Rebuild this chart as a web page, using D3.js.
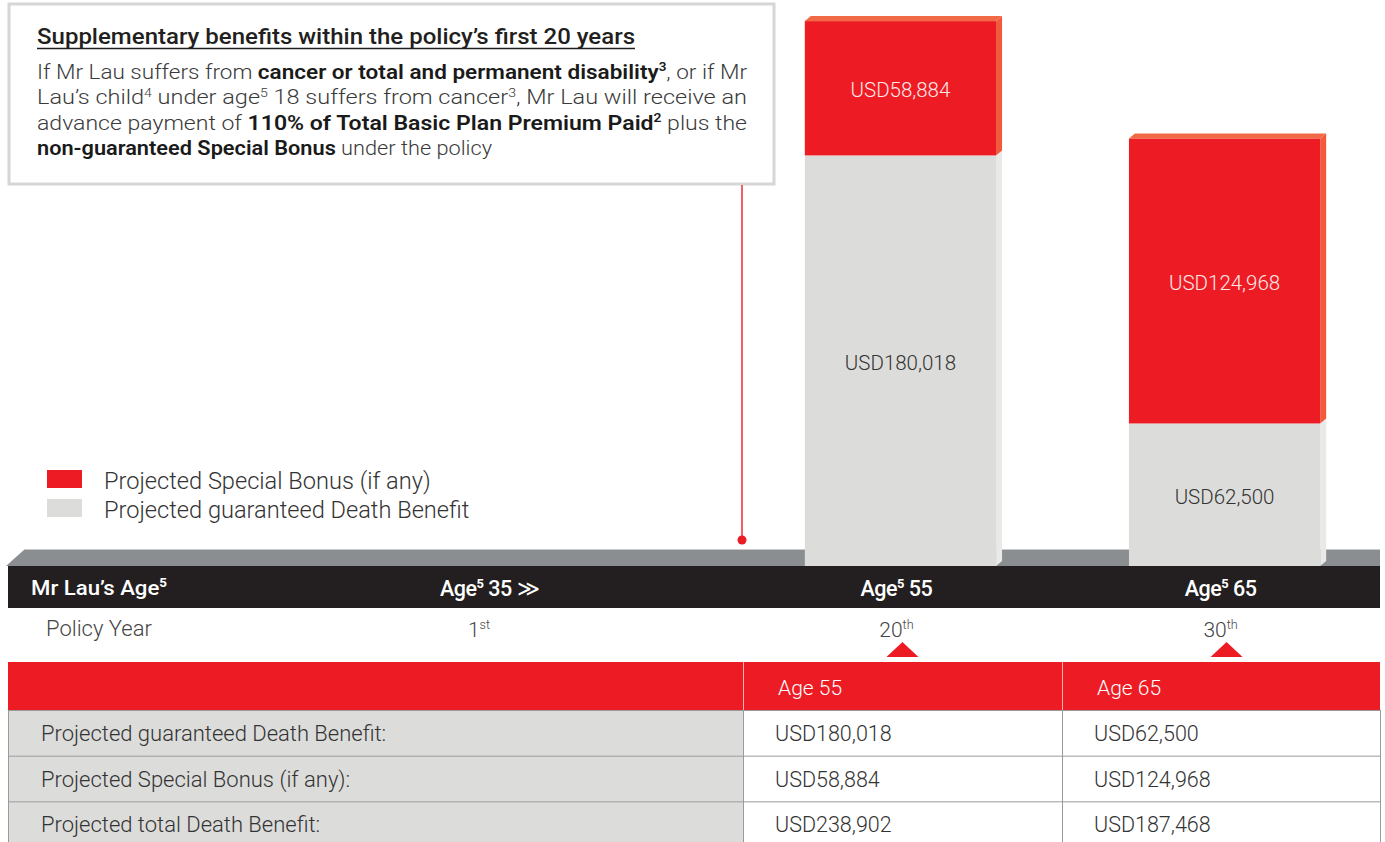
<!DOCTYPE html>
<html><head><meta charset="utf-8">
<script src="https://cdn.jsdelivr.net/npm/d3@7"></script>
<style>
html,body{margin:0;padding:0;background:#fff;}
svg{display:block;font-family:Roboto,"Noto Sans",sans-serif;}
</style></head>
<body>
<svg id="chart" width="1385" height="842"></svg>
<script>
// ---------- data ----------
const barAges = ["Age 55", "Age 65"];
const guaranteed = [180018, 62500];
const specialBonus = [58884, 124968];
const timelineAges = [35, 55, 65];
const policyYears = [1, 20, 30];
const policySuffix = ["st", "th", "th"];
const legendLabels = ["Projected Special Bonus (if any)", "Projected guaranteed Death Benefit"];
const rowLabels = ["Projected guaranteed Death Benefit:", "Projected Special Bonus (if any):", "Projected total Death Benefit:"];
const titleText = "Supplementary benefits within the policy\u2019s first 20 years";
const bodyLines = [
  [{t:"If Mr Lau suffers from "},{t:"cancer or total and permanent disability",b:1},{t:"3",b:1,s:1},{t:", or if Mr"}],
  [{t:"Lau\u2019s child"},{t:"4",s:1},{t:" under age"},{t:"5",s:1},{t:" 18 suffers from cancer"},{t:"3",s:1},{t:", Mr Lau will receive an"}],
  [{t:"advance payment of "},{t:"110% of Total Basic Plan Premium Paid",b:1},{t:"2",b:1,s:1},{t:" plus the"}],
  [{t:"non-guaranteed Special Bonus",b:1},{t:" under the policy"}]
];

const RED = "#ed1c24", RED_SIDE = "#f15a3a", GREY = "#dcdcda", GREY_SIDE = "#e9e9e7";
const fmt = v => "USD" + d3.format(",")(v);

const svg = d3.select("#chart");

// rich text helper
function rich(sel, parts, size) {
  parts.forEach((p, i) => {
    const ts = sel.append("tspan").text(p.t)
      .attr("font-weight", p.b ? 700 : null);
    if (p.s) {
      ts.attr("font-size", size * 0.6).attr("dy", -size * 0.38);
    } else if (i > 0 && parts[i-1].s) {
      ts.attr("dy", size * 0.38);
    }
  });
  return sel;
}

// ---------- scales ----------
const y = d3.scaleLinear().domain([0, 240000]).range([566, 18.6]);
const x = d3.scaleBand().domain(barAges).range([740, 1385]).paddingInner(0.41).paddingOuter(0.2);
const depthX = 6, depthY = 5;

// ---------- text box ----------
svg.append("rect").attr("x", 9).attr("y", 4).attr("width", 765).attr("height", 180)
  .attr("fill", "#fff").attr("stroke", "#d6d6d6").attr("stroke-width", 3);

svg.append("text").attr("x", 37).attr("y", 44)
  .attr("font-size", 22).attr("font-weight", 500).attr("fill", "#231f20").text(titleText)
  .attr("textLength", 598).attr("lengthAdjust", "spacingAndGlyphs");
svg.append("line").attr("x1", 37).attr("x2", 635).attr("y1", 48.5).attr("y2", 48.5)
  .attr("stroke", "#231f20").attr("stroke-width", 1.3);

const bodySize = 20;
const lineTargets = [710, 710, 710, 455];
bodyLines.forEach((parts, i) => {
  const t = svg.append("text").attr("x", 37).attr("y", 79 + i * 25.3)
    .attr("font-size", bodySize).attr("font-weight", 300).attr("fill", "#3a3a3a")
    .attr("textLength", lineTargets[i]).attr("lengthAdjust", "spacingAndGlyphs");
  rich(t, parts, bodySize);
  t.selectAll("tspan").filter(function(){return this.getAttribute("font-weight")==="700";})
    .attr("fill", "#1a1a1a").attr("font-weight", 600);
});

// red marker line (end of first 20 years)
svg.append("line").attr("x1", 742).attr("x2", 742).attr("y1", 185).attr("y2", 540)
  .attr("stroke", RED).attr("stroke-width", 1.4);
svg.append("circle").attr("cx", 742).attr("cy", 540).attr("r", 4.5).attr("fill", RED);

// ---------- legend ----------
const legendColors = [RED, GREY];
legendLabels.forEach((l, i) => {
  svg.append("rect").attr("x", 47).attr("y", 470 + i * 29).attr("width", 35).attr("height", 18).attr("fill", legendColors[i]);
  svg.append("text").attr("x", 104).attr("y", 489 + i * 29).attr("font-size", 23.6).attr("font-weight", 300)
    .attr("fill", "#333").text(l);
});

// ---------- timeline grey band ----------
svg.append("polygon").attr("points", "6,566 25,549 1380,549 1380,566").attr("fill", "#8b8e90");
svg.append("line").attr("x1", 25).attr("x2", 1380).attr("y1", 549.5).attr("y2", 549.5).attr("stroke", "#c9cacb").attr("stroke-width", 1);

// ---------- bars ----------
const stacks = barAges.map((a, i) => ({ age: a, segs: [
  { v0: 0, v1: guaranteed[i], fill: GREY, side: GREY_SIDE, top: "#e6e6e4", label: "#333" },
  { v0: guaranteed[i], v1: guaranteed[i] + specialBonus[i], fill: RED, side: RED_SIDE, top: "#f26a45", label: "#fde8e8" }
]}));

const bars = svg.append("g").selectAll("g").data(stacks).join("g");
bars.each(function(d) {
  const g = d3.select(this);
  const x0 = x(d.age), x1 = x0 + x.bandwidth();
  d.segs.forEach((s, j) => {
    const yt = y(s.v1), yb = y(s.v0);
    g.append("polygon").attr("points", `${x1},${yb} ${x1},${yt} ${x1+depthX},${yt-depthY} ${x1+depthX},${yb-depthY}`)
      .attr("fill", s.side);
    g.append("rect").attr("x", x0).attr("y", yt).attr("width", x1 - x0).attr("height", yb - yt).attr("fill", s.fill);
    if (j === d.segs.length - 1) {
      g.append("polygon").attr("points", `${x0},${yt} ${x0+depthX},${yt-depthY} ${x1+depthX},${yt-depthY} ${x1},${yt}`)
        .attr("fill", s.top);
    }
    g.append("text").attr("x", (x0 + x1) / 2).attr("y", (yt + yb) / 2 + 9)
      .attr("text-anchor", "middle").attr("font-size", 20.5).attr("font-weight", 300)
      .attr("fill", s.label).text(fmt(s.v1 - s.v0));
  });
});

// ---------- black age band ----------
svg.append("rect").attr("x", 8).attr("y", 566).attr("width", 1372).attr("height", 42).attr("fill", "#231f20");
rich(svg.append("text").attr("x", 31).attr("y", 595).attr("font-size", 20).attr("font-weight", 500).attr("fill", "#fff")
  .attr("textLength", 136).attr("lengthAdjust", "spacingAndGlyphs"),
  [{t:"Mr Lau\u2019s Age"},{t:"5",s:1,b:1}], 20);

const ageX = (i) => i === 0 ? 478 : x.bandwidth() / 2 + x(barAges[i - 1]) - 4;
timelineAges.forEach((a, i) => {
  const parts = [{t:"Age"},{t:"5",s:1,b:1},{t:" " + a}];
  if (i === 0) parts.push({t:" \u226B"});
  const t = svg.append("text").attr("x", i === 0 ? 440 : ageX(i)).attr("y", 596)
    .attr("text-anchor", i === 0 ? "start" : "middle")
    .attr("font-size", 21.5).attr("font-weight", 500).attr("fill", "#fff").attr("letter-spacing", -0.5);
  rich(t, parts, 21.5);
});

// ---------- policy years ----------
svg.append("text").attr("x", 46).attr("y", 636).attr("font-size", 22).attr("font-weight", 300).attr("fill", "#444").text("Policy Year");
policyYears.forEach((p, i) => {
  const t = svg.append("text").attr("x", i === 0 ? 479 : ageX(i)).attr("y", 637)
    .attr("text-anchor", "middle").attr("font-size", 21).attr("font-weight", 300).attr("fill", "#444");
  rich(t, [{t: String(p)}, {t: policySuffix[i], s:1}], 21);
  if (i > 0) {
    const cx = ageX(i) + 6;
    svg.append("polygon").attr("points", `${cx-16},657 ${cx},642 ${cx+16},657`).attr("fill", RED);
  }
});

// ---------- table ----------
const colEdges = [8, 743, 1062, 1380];
const rowY = d3.scaleBand().domain(d3.range(rowLabels.length)).range([710, 847]);
svg.append("rect").attr("x", 8).attr("y", 662).attr("width", 1372).attr("height", 48).attr("fill", RED);
barAges.forEach((a, i) => {
  svg.append("text").attr("x", colEdges[i + 1] + 35).attr("y", 695).attr("font-size", 21).attr("font-weight", 300)
    .attr("fill", "#fff").text(a);
});
const totals = guaranteed.map((g, i) => g + specialBonus[i]);
const tableVals = [guaranteed, specialBonus, totals];
rowLabels.forEach((r, i) => {
  const yy = rowY(i), h = rowY.bandwidth();
  svg.append("rect").attr("x", 8).attr("y", yy).attr("width", colEdges[1] - 8).attr("height", h).attr("fill", "#dcdcdb");
  svg.append("text").attr("x", 41).attr("y", yy + h / 2 + 8).attr("font-size", 22).attr("font-weight", 300)
    .attr("fill", "#333").text(r);
  tableVals[i].forEach((v, j) => {
    svg.append("text").attr("x", colEdges[j + 1] + 32).attr("y", yy + h / 2 + 8).attr("font-size", 21.5).attr("font-weight", 300)
      .attr("fill", "#333").text(fmt(v));
  });
  svg.append("line").attr("x1", 8).attr("x2", 1380).attr("y1", yy + 0.5).attr("y2", yy + 0.5).attr("stroke", "#9a9a9a");
});
[1, 2].forEach(k => {
  svg.append("line").attr("x1", colEdges[k] + 0.5).attr("x2", colEdges[k] + 0.5).attr("y1", 662).attr("y2", 710).attr("stroke", "#f7b5b5");
  svg.append("line").attr("x1", colEdges[k] + 0.5).attr("x2", colEdges[k] + 0.5).attr("y1", 710).attr("y2", 842).attr("stroke", "#9a9a9a");
});
svg.append("line").attr("x1", 8.5).attr("x2", 8.5).attr("y1", 710).attr("y2", 842).attr("stroke", "#9a9a9a");
svg.append("line").attr("x1", 1380.5).attr("x2", 1380.5).attr("y1", 710).attr("y2", 842).attr("stroke", "#9a9a9a");
</script>
</body></html>
